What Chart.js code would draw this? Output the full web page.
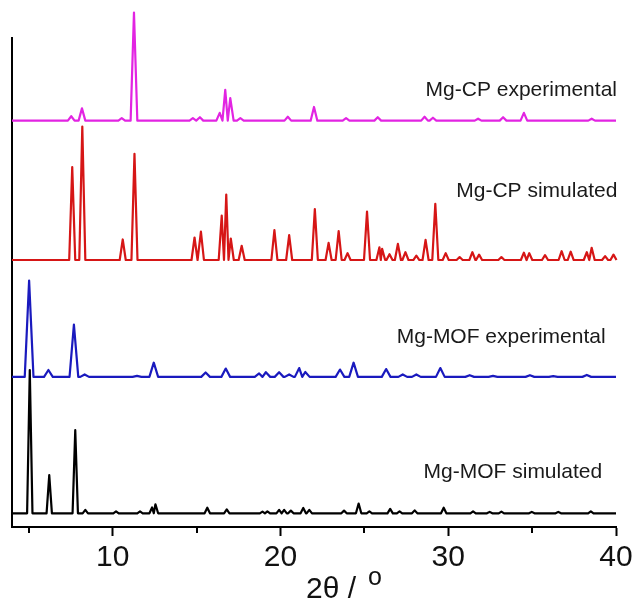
<!DOCTYPE html>
<html>
<head>
<meta charset="utf-8">
<script src="https://cdn.jsdelivr.net/npm/chart.js"></script>
<style>
body { margin: 0; background: #fff; }
</style>
</head>
<body>
<canvas id="xrd_chart" width="639" height="603"></canvas>
<script>
let chart;

// peak positions (2theta) and heights above each trace's baseline
const cpExpPos = [7.53, 8.17, 10.54, 11.27, 14.78, 15.2, 16.38, 16.71, 17.01, 17.61, 20.44, 22.0, 23.91, 25.8, 28.59, 29.09, 31.78, 33.27, 34.51, 38.55];
const cpExpInt = [0.9, 2.5, 0.5, 22.1, 0.5, 0.7, 1.6, 6.3, 4.6, 0.5, 0.8, 2.8, 0.5, 0.7, 0.8, 0.6, 0.4, 0.7, 1.6, 0.4];

const cpSimPos = [7.59, 8.19, 10.6, 11.3, 14.88, 15.26, 16.5, 16.77, 17.04, 17.69, 19.64, 20.52, 22.05, 22.87, 23.47, 24.0, 25.16, 25.9, 26.06, 26.5, 27.0, 27.45, 28.1, 28.65, 29.23, 29.85, 30.68, 31.44, 31.84, 33.17, 34.51, 34.83, 35.77, 36.76, 37.3, 38.26, 38.55, 39.35, 39.85];
const cpSimInt = [19.0, 27.3, 4.2, 21.7, 4.6, 5.8, 9.1, 13.4, 4.4, 2.9, 6.1, 5.1, 10.4, 3.5, 5.9, 1.4, 9.9, 2.6, 2.3, 1.2, 3.3, 1.6, 0.9, 4.1, 11.5, 1.4, 0.6, 1.6, 1.1, 0.6, 1.5, 1.4, 1.0, 1.8, 1.7, 1.6, 2.5, 0.8, 1.1];

const mofExpPos = [5.02, 6.17, 7.69, 8.33, 11.45, 12.45, 15.54, 16.74, 18.73, 19.13, 19.92, 20.52, 21.12, 21.48, 23.55, 24.36, 26.3, 27.29, 28.1, 29.53, 31.28, 32.67, 34.87, 36.26, 38.26];
const mofExpInt = [19.7, 1.4, 10.7, 0.5, 0.2, 2.9, 0.9, 1.7, 0.7, 0.95, 0.95, 0.5, 1.8, 1.0, 1.5, 2.9, 1.6, 0.5, 0.5, 1.8, 0.35, 0.2, 0.35, 0.15, 0.4];

const mofSimPos = [5.06, 6.22, 7.77, 8.37, 10.2, 11.63, 12.35, 12.55, 15.64, 16.8, 18.93, 19.22, 19.92, 20.22, 20.62, 21.36, 21.72, 23.79, 24.66, 25.3, 26.54, 27.1, 28.0, 29.73, 31.48, 32.47, 33.17, 34.98, 36.56, 38.5];
const mofSimInt = [29.3, 7.8, 17.0, 0.7, 0.4, 0.4, 1.2, 1.85, 1.15, 0.8, 0.35, 0.4, 0.7, 0.7, 0.55, 1.1, 0.7, 0.55, 2.0, 0.4, 0.9, 0.4, 0.6, 1.15, 0.4, 0.3, 0.35, 0.3, 0.3, 0.4];

// vertical offset of each trace
const offsets = [83.1, 54.6, 30.7, 2.8];
const seriesNames = ['Mg-CP experimental', 'Mg-CP simulated', 'Mg-MOF experimental', 'Mg-MOF simulated'];
const xTicks = [5, 10, 15, 20, 25, 30, 35, 40];

const labelPos = [[28.65, 88.1], [30.48, 67.5], [26.93, 37.6], [28.53, 10.0]];

function BuildTrace(pos, inten, base, w)
{
    let pts = [{x: 4, y: base}];
    for (let i = 0; i < pos.length; i++)
    {
        let left = pos[i] - w;
        let last = pts[pts.length - 1];
        if (left <= last.x)
        {
            // neighbouring peaks share one foot
            last.x = (last.x + left) / 2;
        }
        else
        {
            pts.push({x: left, y: base});
        }
        pts.push({x: pos[i], y: base + inten[i]});
        pts.push({x: pos[i] + w, y: base});
    }
    pts.push({x: 40, y: base});
    return pts;
}

const decorPlugin = {
    id: 'decor',
    afterDraw(c) {
        const ctx = c.ctx;
        const xs = c.scales.x;
        const ys = c.scales.y;
        const bottom = c.chartArea.bottom;
        ctx.save();
        // minor ticks
        ctx.strokeStyle = '#000';
        ctx.lineWidth = 2;
        [5, 15, 25, 35].forEach(v => {
            const px = Math.round(xs.getPixelForValue(v));
            ctx.beginPath();
            ctx.moveTo(px, bottom);
            ctx.lineTo(px, bottom + 6);
            ctx.stroke();
        });
        // trace names
        ctx.fillStyle = '#1a1a1a';
        ctx.font = '21px "Liberation Sans", Arial, sans-serif';
        ctx.textBaseline = 'alphabetic';
        ctx.textAlign = 'left';
        for (let i = 0; i < seriesNames.length; i++)
        {
            ctx.fillText(seriesNames[i], xs.getPixelForValue(labelPos[i][0]), ys.getPixelForValue(labelPos[i][1]));
        }
        // axis title
        ctx.fillStyle = '#111';
        ctx.font = '30px "Liberation Sans", Arial, sans-serif';
        ctx.fillText('2θ / ', 306, bottom + 71);
        ctx.font = '25px "Liberation Sans", Arial, sans-serif';
        ctx.fillText('o', 368, bottom + 58);
        ctx.restore();
    }
};

Init();

function Init()
{
    const ctx = document.getElementById('xrd_chart').getContext('2d');
    const colors = ['rgb(226, 36, 226)', 'rgb(214, 22, 22)', 'rgb(26, 26, 190)', 'rgb(0, 0, 0)'];
    const widths = [0.2, 0.18, 0.26, 0.16];
    const traces = [
        BuildTrace(cpExpPos, cpExpInt, offsets[0], widths[0]),
        BuildTrace(cpSimPos, cpSimInt, offsets[1], widths[1]),
        BuildTrace(mofExpPos, mofExpInt, offsets[2], widths[2]),
        BuildTrace(mofSimPos, mofSimInt, offsets[3], widths[3])
    ];
    const data = {
        datasets: traces.map((t, i) => ({
            label: seriesNames[i],
            data: t,
            borderColor: colors[i],
            borderWidth: 2.2,
            pointRadius: 0,
            tension: 0,
            borderJoinStyle: 'round',
            clip: false
        }))
    };
    const config = {
        type: 'line',
        data: data,
        options: {
            responsive: false,
            animation: false,
            layout: { padding: { left: 12, right: 23, top: 38, bottom: 23 } },
            plugins: { legend: { display: false }, tooltip: { enabled: false } },
            scales: {
                x: {
                    type: 'linear',
                    min: 4,
                    max: 40,
                    afterBuildTicks: scale => { scale.ticks = xTicks.map(v => ({value: v})); },
                    ticks: {
                        callback: v => (v % 10 === 0 ? String(v) : ''),
                        font: { size: 30, family: '"Liberation Sans", Arial, sans-serif' },
                        color: '#111',
                        padding: 4,
                        maxRotation: 0,
                        autoSkip: false
                    },
                    grid: {
                        drawOnChartArea: false,
                        tickLength: 9,
                        tickWidth: 2,
                        tickColor: c => (c.tick && c.tick.value % 10 === 0 ? '#000' : 'rgba(0,0,0,0)')
                    },
                    border: { color: '#000', width: 2 }
                },
                y: {
                    min: 0,
                    max: 100,
                    ticks: { display: false },
                    grid: { display: false, drawTicks: false, tickLength: 0 },
                    border: { color: '#000', width: 2 }
                }
            }
        },
        plugins: [decorPlugin]
    };
    chart = new Chart(ctx, config);
}
</script>
</body>
</html>
